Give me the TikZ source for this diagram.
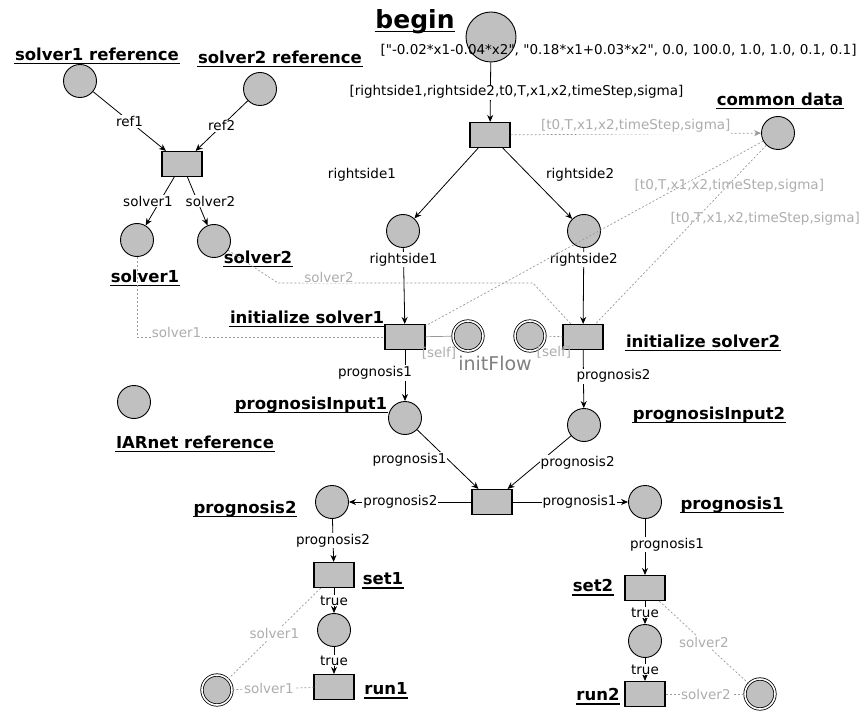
\documentclass[tikz,border=0pt]{standalone}
\usepackage{fontspec}
\setmainfont{DejaVu Sans}
\usetikzlibrary{arrows.meta}
\definecolor{placegray}{RGB}{192,192,192}
\colorlet{readgray}{black!40}
\colorlet{readtext}{black!32}
\newcommand{\arcfont}{\fontsize{13.5}{15}\selectfont}
\newcommand{\netfont}{\bfseries\fontsize{16.5}{18}\selectfont}
\newcommand{\qq}{\textquotedbl}
\tikzset{place/.style={circle,draw,fill=placegray,line width=.9pt,minimum size=33pt,inner sep=0pt},
         initplace/.style={place,double=white,double distance=1.6pt,line width=.8pt,minimum size=30pt},
         trans/.style={rectangle,draw,fill=placegray,line width=1.1pt,minimum width=40pt,minimum height=25pt,inner sep=0pt},
         flow/.style={draw,line width=.8pt,-{Stealth[length=7pt,width=6pt]}},
         readarc/.style={draw=readgray,line width=.7pt,dash pattern=on 2pt off 2pt},
         lbl/.style={font=\arcfont,fill=white,inner sep=1pt},
         glbl/.style={lbl,text=readtext},
         netname/.style={font=\netfont,inner sep=.5pt,text depth=.25em,
            append after command={(\tikzlastnode.south west) edge[line width=1.4pt] (\tikzlastnode.south east)}}
}

\begin{document}
\begin{tikzpicture}[x=1pt,y=-1pt]
  \useasboundingbox (0,0) rectangle (867,711);
  % places
  \node[place,minimum size=50pt] (begin) at (491,37) {};
  \node[place] (comdata) at (778,133) {};
  \node[place] (sref1) at (80,81) {};
  \node[place] (sref2) at (260,89) {};
  \node[place] (solv1) at (137,240) {};
  \node[place] (solv2) at (214,241) {};
  \node[place] (iarnet) at (134,402) {};
  \node[place] (rside1) at (403,231) {};
  \node[place] (rside2) at (584,231) {};
  \node[place] (pin1) at (405,418) {};
  \node[place] (pin2) at (584,425) {};
  \node[place] (prog2) at (332,502) {};
  \node[place] (prog1) at (645,502) {};
  \node[place] (flag1) at (334,630) {};
  \node[place] (flag2) at (645,641) {};
  \node[initplace] (flow1) at (468,336) {};
  \node[initplace] (flow2) at (530,336) {};
  \node[initplace] (slot1) at (217,690) {};
  \node[initplace] (slot2) at (760,694) {};
  % transitions
  \node[trans] (tsolv) at (182,164) {};
  \node[trans] (tstart) at (490,135) {};
  \node[trans] (init1) at (405,337) {};
  \node[trans] (init2) at (583,337) {};
  \node[trans] (tprog) at (492,502) {};
  \node[trans] (set1) at (334,575) {};
  \node[trans] (run1) at (334,687) {};
  \node[trans] (set2) at (645,588) {};
  \node[trans] (run2) at (645,694) {};
  % names
  \node[netname,font=\bfseries\fontsize{25}{28}\selectfont] (nbegin) at (415,20) {begin};
  \node[netname] (nsref1) at (97,55) {solver1 reference};
  \node[netname] (nsref2) at (280,58) {solver2 reference};
  \node[netname] (ncomdata) at (780,100) {common data};
  \node[netname] (nsolv1) at (145,277) {solver1};
  \node[netname] (nsolv2) at (258,258) {solver2};
  \node[netname] (ninit1) at (307,318) {initialize solver1};
  \node[netname] (ninit2) at (703,342) {initialize solver2};
  \node[netname] (npin1) at (311,404) {prognosisInput1};
  \node[netname] (npin2) at (709,414) {prognosisInput2};
  \node[netname] (niarnet) at (195,443) {IARnet reference};
  \node[netname] (nprog2) at (245,508) {prognosis2};
  \node[netname] (nprog1) at (732,504) {prognosis1};
  \node[netname] (nset1) at (383,580) {set1};
  \node[netname] (nset2) at (593,587) {set2};
  \node[netname] (nrun1) at (386,690) {run1};
  \node[netname] (nrun2) at (598,696) {run2};
  \node[font=\arcfont,anchor=west] (params) at (377,50)
     {[\qq-0.02*x1-0.04*x2\qq, \qq0.18*x1+0.03*x2\qq, 0.0, 100.0, 1.0, 1.0, 0.1, 0.1]};
  \node[text=black!50,font=\fontsize{19}{21}\selectfont] (nflow) at (495,363) {initFlow};
  % arcs
  \draw[flow] (sref1) -- node[lbl] {ref1} (tsolv);
  \draw[flow] (sref2) -- node[lbl] {ref2} (tsolv);
  \draw[flow] (tsolv) -- node[lbl,xshift=-12pt] {solver1} (solv1);
  \draw[flow] (tsolv) -- node[lbl,xshift=13pt] {solver2} (solv2);
  \draw[flow] (begin) -- node[lbl,xshift=26pt] {[rightside1,rightside2,t0,T,x1,x2,timeStep,sigma]} (tstart);
  \draw[flow,readarc] (tstart) -- node[glbl,above] {[t0,T,x1,x2,timeStep,sigma]} (comdata);
  \draw[flow] (tstart) -- node[lbl,pos=.38,xshift=-92pt] {rightside1} (rside1);
  \draw[flow] (tstart) -- node[lbl,pos=.38,xshift=51pt] {rightside2} (rside2);
  \draw[flow] (rside1) -- node[lbl,pos=.15] {rightside1} (init1);
  \draw[flow] (rside2) -- node[lbl,pos=.15] {rightside2} (init2);
  \draw[flow] (init1) -- node[lbl,pos=.45,xshift=-30pt] {prognosis1} (pin1);
  \draw[flow] (init2) -- node[lbl,pos=.45,xshift=30pt] {prognosis2} (pin2);
  \draw[flow] (pin1) -- node[lbl,left] {prognosis1} (tprog);
  \draw[flow] (pin2) -- node[lbl,right] {prognosis2} (tprog);
  \draw[flow] (tprog) -- node[lbl,pos=.58] {prognosis2} (prog2);
  \draw[flow] (tprog) -- node[lbl,pos=.58] {prognosis1} (prog1);
  \draw[flow] (prog2) -- node[lbl] {prognosis2} (set1);
  \draw[flow] (set1) -- node[lbl] {true} (flag1);
  \draw[flow] (flag1) -- node[lbl] {true} (run1);
  \draw[flow] (prog1) -- node[lbl,pos=.46,xshift=22pt] {prognosis1} (set2);
  \draw[flow] (set2) -- node[lbl] {true} (flag2);
  \draw[flow] (flag2) -- node[lbl] {true} (run2);
  % read arcs
  \draw[readarc] (comdata) -- node[glbl,fill=none,pos=.1,yshift=-26pt] {[t0,T,x1,x2,timeStep,sigma]} (init1);
  \draw[readarc] (comdata) -- node[glbl,fill=none,pos=.41,xshift=69pt] {[t0,T,x1,x2,timeStep,sigma]} (init2);
  \draw[readarc] (solv1) |- node[glbl,pos=.58,yshift=5pt] {solver1} (init1);
  \draw[readarc] (solv2) -- (278,283) -- node[glbl,pos=.2,yshift=6pt] {solver2} (533,283) -- (init2);
  \draw[draw=readgray,line width=.7pt] (init1) -- node[glbl,fill=none,below=9pt] {[self]} (flow1);
  \draw[readarc] (flow2) -- node[glbl,fill=none,below=8pt] {[self]} (init2);
  \draw[readarc] (slot1) -- node[glbl,pos=.45] {solver1} (run1);
  \draw[readarc] (slot1) -- node[glbl] {solver1} (set1);
  \draw[readarc] (run2) -- node[glbl,pos=.51] {solver2} (slot2);
  \draw[readarc] (set2) -- node[glbl] {solver2} (slot2);
\end{tikzpicture}
\end{document}
